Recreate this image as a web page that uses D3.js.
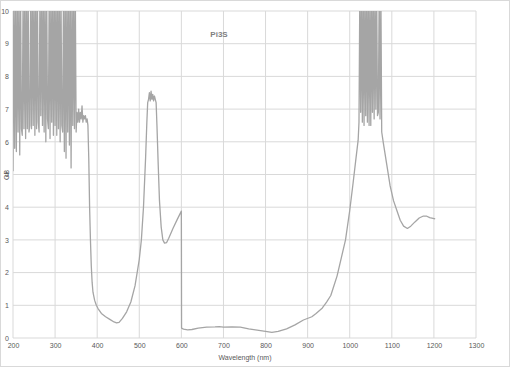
<!DOCTYPE html>
<html><head><meta charset="utf-8">
<script src="https://cdn.jsdelivr.net/npm/d3@7"></script>
<style>html,body{margin:0;padding:0;background:#fff;}svg{display:block;font-family:"Liberation Sans","DejaVu Sans",sans-serif;}</style>
</head><body>
<svg id="c" width="510" height="367"></svg>
<script>
const chartTitle = "Pi3S";
const xTitle = "Wavelength (nm)";
const yTitle = "OB";
const xTicks = [200,300,400,500,600,700,800,900,1000,1100,1200,1300];
const yTicks = [0,1,2,3,4,5,6,7,8,9,10];

const wavelengthNm = [
200,202,204,206,208,210,212,214,216,218,220,222,224,226,228,230,232,234,236,238,240,242,244,246,248,250,
252,254,256,258,260,262,264,266,268,270,272,274,276,278,280,282,284,286,288,290,292,294,296,298,300,
302,304,306,308,310,312,314,316,318,320,322,324,326,328,330,332,334,336,338,340,342,344,346,348,350,
352,354,356,358,360,362,364,366,368,370,372,374,376,378,380,382,384,386,388,390,394,398,402,410,420,430,440,446,452,460,470,480,490,500,505,510,515,518,
520,522,524,526,528,530,532,534,536,538,540,542,545,548,552,556,560,565,570,580,590,600,600.5,605,615,625,640,660,680,690,700,720,740,760,780,800,815,830,850,870,890,910,920,935,945,955,
960,970,980,990,1000,1008,1014,1020,1022,1024,1026,1028,1030,1032,1034,1036,1038,1040,1042,1044,1046,1048,1050,1052,1054,1056,1058,1060,1062,1064,1066,1068,1070,1072,1074,1076,
1080,1088,1096,1104,1112,1120,1128,1137,1145,1155,1165,1175,1182,1190,1203];

const opticalDensity = [
5.1,10.6,5.8,10.6,5.7,10.6,6.3,10.6,5.6,10.6,6.4,6.2,10.6,6.4,10.6,6.1,10.6,6.4,10.6,6.3,6.5,10.6,6.4,10.6,6.5,10.6,
6.2,10.6,6.4,10.6,6.6,6.3,10.6,6.8,10.6,6.5,10.6,6.3,10.6,6.0,10.6,6.7,6.4,10.6,6.1,10.6,6.6,10.6,6.2,10.6,6.5,
10.6,6.2,10.6,6.4,10.6,6.0,10.6,6.5,6.3,10.6,5.7,10.6,5.5,10.6,6.3,10.6,5.9,10.6,5.2,10.6,6.5,10.6,6.4,10.6,6.3,
6.9,6.6,7.0,6.6,6.9,6.7,7.1,6.6,6.8,6.7,6.8,6.6,6.7,6.5,5.5,4.0,3.0,2.2,1.7,1.4,1.15,1.0,0.9,0.75,0.65,0.57,0.49,0.46,0.48,0.6,0.8,1.1,1.6,2.4,3.0,4.0,5.5,6.6,
7.2,7.3,7.5,7.25,7.55,7.3,7.45,7.25,7.4,7.3,7.2,6.5,5.3,4.2,3.4,3.0,2.9,2.92,3.05,3.35,3.62,3.88,0.3,0.27,0.25,0.26,0.3,0.33,0.34,0.35,0.33,0.34,0.33,0.28,0.24,0.2,0.17,0.2,0.28,0.4,0.55,0.65,0.75,0.92,1.1,1.3,
1.5,1.9,2.45,3.0,3.9,4.74,5.4,6.05,6.6,10.6,6.9,10.6,6.6,10.6,6.5,10.6,6.8,10.6,6.6,10.6,6.5,10.6,6.5,10.6,6.9,10.6,6.7,10.6,7.0,10.6,6.8,6.9,10.6,6.7,10.6,6.3,
5.95,5.3,4.65,4.2,3.9,3.6,3.42,3.35,3.42,3.55,3.67,3.73,3.73,3.68,3.64];

const svg = d3.select("#c");
const W = 510, H = 367;
const mLeft = 13, mRight = 476, mTop = 11, mBottom = 338;

svg.append("rect").attr("x",0.5).attr("y",0.5).attr("width",W-1).attr("height",H-1)
  .attr("fill","#fff").attr("stroke","#d9d9d9");

const x = d3.scaleLinear().domain([200,1300]).range([mLeft,mRight]);
const y = d3.scaleLinear().domain([0,10]).range([mBottom,mTop]);

// gridlines
const g = svg.append("g");
g.selectAll("line.v").data(xTicks).join("line").attr("class","v")
  .attr("x1",d=>x(d)).attr("x2",d=>x(d)).attr("y1",mTop).attr("y2",mBottom)
  .attr("stroke","#d9d9d9").attr("stroke-width",1);
g.selectAll("line.h").data(yTicks).join("line").attr("class","h")
  .attr("x1",mLeft).attr("x2",mRight).attr("y1",d=>y(d)).attr("y2",d=>y(d))
  .attr("stroke","#d9d9d9").attr("stroke-width",1);

// axes labels
const xAxis = d3.axisBottom(x).tickValues(xTicks).tickSize(0).tickPadding(5).tickFormat(d3.format("d"));
const xa = svg.append("g").attr("transform",`translate(0,${mBottom})`).call(xAxis);
xa.select(".domain").remove();
xa.selectAll("text").attr("fill","#595959").attr("font-size","7px").attr("dy","0.71em");

const yAxis = d3.axisLeft(y).tickValues(yTicks).tickSize(0).tickPadding(4);
const ya = svg.append("g").attr("transform",`translate(${mLeft},0)`).call(yAxis);
ya.select(".domain").remove();
ya.selectAll("text").attr("fill","#595959").attr("font-size","7px");

// clip
svg.append("clipPath").attr("id","clip").append("rect")
  .attr("x",mLeft).attr("y",mTop).attr("width",mRight-mLeft).attr("height",mBottom-mTop);

const pts = wavelengthNm.map((w,i)=>[w,opticalDensity[i]]);
const line = d3.line().x(d=>x(d[0])).y(d=>y(d[1]));
svg.append("path").attr("clip-path","url(#clip)").datum(pts).attr("d",line)
  .attr("fill","none").attr("stroke","#a5a5a5").attr("stroke-width",1.3).attr("stroke-linejoin","round");

// titles
svg.append("text").attr("x",219).attr("y",34).attr("text-anchor","middle").attr("dominant-baseline","central")
  .attr("font-size","8px").attr("font-weight","bold").attr("fill","#7f7f7f").text(chartTitle);
svg.append("text").attr("x",245).attr("y",357).attr("text-anchor","middle").attr("dominant-baseline","central")
  .attr("font-size","7px").attr("fill","#595959").text(xTitle);
svg.append("text").attr("transform","translate(6,175) rotate(-90)").attr("text-anchor","middle").attr("dominant-baseline","central")
  .attr("font-size","7px").attr("fill","#595959").text(yTitle);
</script>
</body></html>
